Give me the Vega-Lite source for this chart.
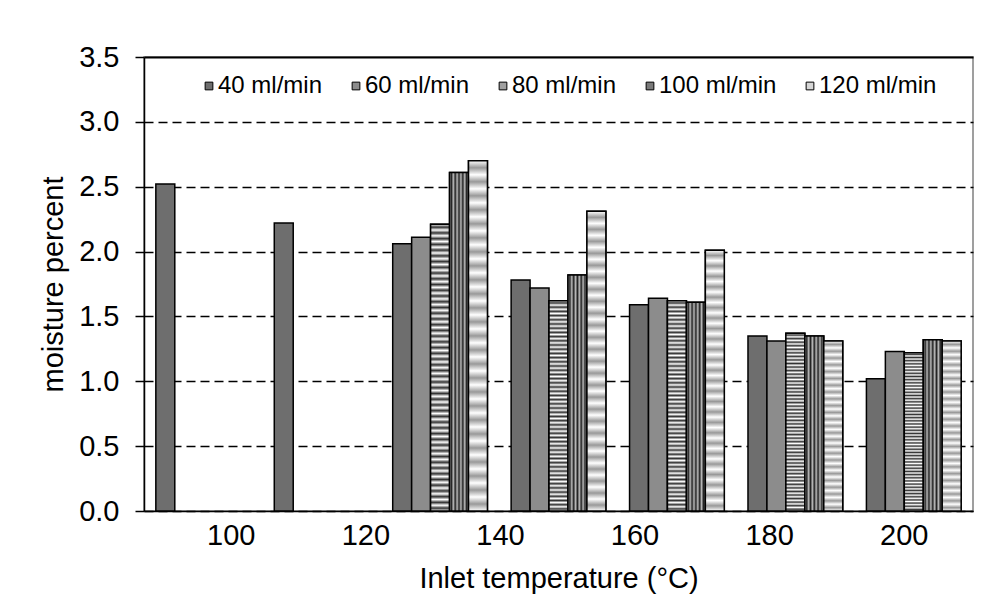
{
  "$schema": "https://vega.github.io/schema/vega-lite/v6.json",
  "width": 829,
  "height": 454,
  "autosize": "none",
  "padding": {"left": 144, "top": 57, "right": 34, "bottom": 96},
  "background": "white",
  "config": {
    "font": "Liberation Sans",
    "view": {"stroke": "#808080", "strokeWidth": 1.5},
    "axis": {"labelColor": "#000", "titleColor": "#000", "titleFontWeight": "normal", "domainColor": "#000", "domainWidth": 1.5, "tickColor": "#000"}
  },
  "datasets": {
    "bars": [
      {"group": 1, "series": "40 ml/min", "moisture": 2.52},
      {"group": 2, "series": "40 ml/min", "moisture": 2.22},
      {"group": 3, "series": "40 ml/min", "moisture": 2.06},
      {"group": 3, "series": "60 ml/min", "moisture": 2.11},
      {"group": 3, "series": "80 ml/min", "moisture": 2.21},
      {"group": 3, "series": "100 ml/min", "moisture": 2.61},
      {"group": 3, "series": "120 ml/min", "moisture": 2.70},
      {"group": 4, "series": "40 ml/min", "moisture": 1.78},
      {"group": 4, "series": "60 ml/min", "moisture": 1.72},
      {"group": 4, "series": "80 ml/min", "moisture": 1.62},
      {"group": 4, "series": "100 ml/min", "moisture": 1.82},
      {"group": 4, "series": "120 ml/min", "moisture": 2.31},
      {"group": 5, "series": "40 ml/min", "moisture": 1.59},
      {"group": 5, "series": "60 ml/min", "moisture": 1.64},
      {"group": 5, "series": "80 ml/min", "moisture": 1.62},
      {"group": 5, "series": "100 ml/min", "moisture": 1.61},
      {"group": 5, "series": "120 ml/min", "moisture": 2.01},
      {"group": 6, "series": "40 ml/min", "moisture": 1.35},
      {"group": 6, "series": "60 ml/min", "moisture": 1.31},
      {"group": 6, "series": "80 ml/min", "moisture": 1.37},
      {"group": 6, "series": "100 ml/min", "moisture": 1.35},
      {"group": 6, "series": "120 ml/min", "moisture": 1.31},
      {"group": 7, "series": "40 ml/min", "moisture": 1.02},
      {"group": 7, "series": "60 ml/min", "moisture": 1.23},
      {"group": 7, "series": "80 ml/min", "moisture": 1.22},
      {"group": 7, "series": "100 ml/min", "moisture": 1.32},
      {"group": 7, "series": "120 ml/min", "moisture": 1.31}
    ],
    "temps": [
      {"temp": 100}, {"temp": 120}, {"temp": 140}, {"temp": 160}, {"temp": 180}, {"temp": 200}
    ]
  },
  "resolve": {"scale": {"x": "independent"}, "axis": {"x": "independent"}},
  "layer": [
    {
      "data": {"name": "bars"},
      "encoding": {
        "x": {"field": "group", "type": "ordinal", "scale": {"domain": [1, 2, 3, 4, 5, 6, 7], "paddingInner": 0.2, "paddingOuter": 0.1}, "axis": null},
        "xOffset": {"field": "series", "type": "nominal", "scale": {"domain": ["40 ml/min", "60 ml/min", "80 ml/min", "100 ml/min", "120 ml/min"], "paddingInner": 0, "paddingOuter": 0}},
        "y": {
          "field": "moisture", "type": "quantitative",
          "scale": {"domain": [0, 3.5], "nice": false, "zero": true},
          "axis": {
            "title": "moisture percent",
            "values": [0, 0.5, 1, 1.5, 2, 2.5, 3, 3.5],
            "format": ".1f",
            "labelFontSize": 29,
            "titleFontSize": 29,
            "labelPadding": 16,
            "titlePadding": 10,
            "tickSize": 9,
            "tickWidth": 1.5,
            "grid": true,
            "gridColor": "#000",
            "gridDash": {"condition": {"test": "datum.value >= 3.5", "value": []}, "value": [9, 5]},
            "gridWidth": {"condition": {"test": "datum.value >= 3.5", "value": 2}, "value": 1.5}
          }
        }
      },
      "layer": [
        {
          "mark": {"type": "bar", "stroke": "#000", "strokeWidth": 1.5},
          "encoding": {
            "color": {
              "field": "series", "type": "nominal",
              "scale": {"domain": ["40 ml/min", "60 ml/min", "80 ml/min", "100 ml/min", "120 ml/min"], "range": ["#6e6e6e", "#8c8c8c", "#a0a0a0", "#7a7a7a", "#d6d6d6"]},
              "legend": {
                "orient": "none", "legendX": 53, "legendY": 17, "direction": "horizontal", "columns": 5,
                "title": null, "labelFontSize": 24, "labelColor": "#000", "symbolType": "square", "symbolSize": 60,
                "symbolStrokeColor": "#000", "symbolStrokeWidth": 1, "labelOffset": -3, "columnPadding": 21, "padding": 0
              }
            }
          }
        },
        {
          "transform": [{"filter": {"field": "series", "oneOf": ["80 ml/min", "100 ml/min", "120 ml/min"]}}],
          "mark": {"type": "bar", "stroke": "#000", "strokeWidth": 1.5},
          "encoding": {
            "fill": {
              "condition": [
                {"test": "datum.series === '80 ml/min'", "value": {"gradient": "linear", "x1": 0, "y1": 0, "x2": 0, "y2": 1, "stops": [
                  {"offset": 0, "color": "#fff"}, {"offset": 0.01, "color": "#333"}, {"offset": 0.02, "color": "#fff"}, {"offset": 0.03, "color": "#333"}, {"offset": 0.04, "color": "#fff"}, {"offset": 0.05, "color": "#333"}, {"offset": 0.06, "color": "#fff"}, {"offset": 0.07, "color": "#333"}, {"offset": 0.08, "color": "#fff"}, {"offset": 0.09, "color": "#333"},
                  {"offset": 0.1, "color": "#fff"}, {"offset": 0.11, "color": "#333"}, {"offset": 0.12, "color": "#fff"}, {"offset": 0.13, "color": "#333"}, {"offset": 0.14, "color": "#fff"}, {"offset": 0.15, "color": "#333"}, {"offset": 0.16, "color": "#fff"}, {"offset": 0.17, "color": "#333"}, {"offset": 0.18, "color": "#fff"}, {"offset": 0.19, "color": "#333"},
                  {"offset": 0.2, "color": "#fff"}, {"offset": 0.21, "color": "#333"}, {"offset": 0.22, "color": "#fff"}, {"offset": 0.23, "color": "#333"}, {"offset": 0.24, "color": "#fff"}, {"offset": 0.25, "color": "#333"}, {"offset": 0.26, "color": "#fff"}, {"offset": 0.27, "color": "#333"}, {"offset": 0.28, "color": "#fff"}, {"offset": 0.29, "color": "#333"},
                  {"offset": 0.3, "color": "#fff"}, {"offset": 0.31, "color": "#333"}, {"offset": 0.32, "color": "#fff"}, {"offset": 0.33, "color": "#333"}, {"offset": 0.34, "color": "#fff"}, {"offset": 0.35, "color": "#333"}, {"offset": 0.36, "color": "#fff"}, {"offset": 0.37, "color": "#333"}, {"offset": 0.38, "color": "#fff"}, {"offset": 0.39, "color": "#333"},
                  {"offset": 0.4, "color": "#fff"}, {"offset": 0.41, "color": "#333"}, {"offset": 0.42, "color": "#fff"}, {"offset": 0.43, "color": "#333"}, {"offset": 0.44, "color": "#fff"}, {"offset": 0.45, "color": "#333"}, {"offset": 0.46, "color": "#fff"}, {"offset": 0.47, "color": "#333"}, {"offset": 0.48, "color": "#fff"}, {"offset": 0.49, "color": "#333"},
                  {"offset": 0.5, "color": "#fff"}, {"offset": 0.51, "color": "#333"}, {"offset": 0.52, "color": "#fff"}, {"offset": 0.53, "color": "#333"}, {"offset": 0.54, "color": "#fff"}, {"offset": 0.55, "color": "#333"}, {"offset": 0.56, "color": "#fff"}, {"offset": 0.57, "color": "#333"}, {"offset": 0.58, "color": "#fff"}, {"offset": 0.59, "color": "#333"},
                  {"offset": 0.6, "color": "#fff"}, {"offset": 0.61, "color": "#333"}, {"offset": 0.62, "color": "#fff"}, {"offset": 0.63, "color": "#333"}, {"offset": 0.64, "color": "#fff"}, {"offset": 0.65, "color": "#333"}, {"offset": 0.66, "color": "#fff"}, {"offset": 0.67, "color": "#333"}, {"offset": 0.68, "color": "#fff"}, {"offset": 0.69, "color": "#333"},
                  {"offset": 0.7, "color": "#fff"}, {"offset": 0.71, "color": "#333"}, {"offset": 0.72, "color": "#fff"}, {"offset": 0.73, "color": "#333"}, {"offset": 0.74, "color": "#fff"}, {"offset": 0.75, "color": "#333"}, {"offset": 0.76, "color": "#fff"}, {"offset": 0.77, "color": "#333"}, {"offset": 0.78, "color": "#fff"}, {"offset": 0.79, "color": "#333"},
                  {"offset": 0.8, "color": "#fff"}, {"offset": 0.81, "color": "#333"}, {"offset": 0.82, "color": "#fff"}, {"offset": 0.83, "color": "#333"}, {"offset": 0.84, "color": "#fff"}, {"offset": 0.85, "color": "#333"}, {"offset": 0.86, "color": "#fff"}, {"offset": 0.87, "color": "#333"}, {"offset": 0.88, "color": "#fff"}, {"offset": 0.89, "color": "#333"},
                  {"offset": 0.9, "color": "#fff"}, {"offset": 0.91, "color": "#333"}, {"offset": 0.92, "color": "#fff"}, {"offset": 0.93, "color": "#333"}, {"offset": 0.94, "color": "#fff"}, {"offset": 0.95, "color": "#333"}, {"offset": 0.96, "color": "#fff"}, {"offset": 0.97, "color": "#333"}, {"offset": 0.98, "color": "#fff"}, {"offset": 0.99, "color": "#333"},
                  {"offset": 1, "color": "#fff"}
                ]}},
                {"test": "datum.series === '100 ml/min'", "value": {"gradient": "linear", "x1": 0, "y1": 0, "x2": 1, "y2": 0, "stops": [
                  {"offset": 0, "color": "#bbb"}, {"offset": 0.1, "color": "#222"}, {"offset": 0.2, "color": "#bbb"}, {"offset": 0.3, "color": "#222"}, {"offset": 0.4, "color": "#bbb"}, {"offset": 0.5, "color": "#222"}, {"offset": 0.6, "color": "#bbb"}, {"offset": 0.7, "color": "#222"}, {"offset": 0.8, "color": "#bbb"}, {"offset": 0.9, "color": "#222"}, {"offset": 1, "color": "#bbb"}
                ]}},
                {"test": "datum.series === '120 ml/min'", "value": {"gradient": "linear", "x1": 0, "y1": 0, "x2": 0, "y2": 1, "stops": [
                  {"offset": 0, "color": "#fff"}, {"offset": 0.02, "color": "#999"}, {"offset": 0.04, "color": "#fff"}, {"offset": 0.06, "color": "#999"}, {"offset": 0.08, "color": "#fff"}, {"offset": 0.1, "color": "#999"}, {"offset": 0.12, "color": "#fff"}, {"offset": 0.14, "color": "#999"}, {"offset": 0.16, "color": "#fff"}, {"offset": 0.18, "color": "#999"},
                  {"offset": 0.2, "color": "#fff"}, {"offset": 0.22, "color": "#999"}, {"offset": 0.24, "color": "#fff"}, {"offset": 0.26, "color": "#999"}, {"offset": 0.28, "color": "#fff"}, {"offset": 0.3, "color": "#999"}, {"offset": 0.32, "color": "#fff"}, {"offset": 0.34, "color": "#999"}, {"offset": 0.36, "color": "#fff"}, {"offset": 0.38, "color": "#999"},
                  {"offset": 0.4, "color": "#fff"}, {"offset": 0.42, "color": "#999"}, {"offset": 0.44, "color": "#fff"}, {"offset": 0.46, "color": "#999"}, {"offset": 0.48, "color": "#fff"}, {"offset": 0.5, "color": "#999"}, {"offset": 0.52, "color": "#fff"}, {"offset": 0.54, "color": "#999"}, {"offset": 0.56, "color": "#fff"}, {"offset": 0.58, "color": "#999"},
                  {"offset": 0.6, "color": "#fff"}, {"offset": 0.62, "color": "#999"}, {"offset": 0.64, "color": "#fff"}, {"offset": 0.66, "color": "#999"}, {"offset": 0.68, "color": "#fff"}, {"offset": 0.7, "color": "#999"}, {"offset": 0.72, "color": "#fff"}, {"offset": 0.74, "color": "#999"}, {"offset": 0.76, "color": "#fff"}, {"offset": 0.78, "color": "#999"},
                  {"offset": 0.8, "color": "#fff"}, {"offset": 0.82, "color": "#999"}, {"offset": 0.84, "color": "#fff"}, {"offset": 0.86, "color": "#999"}, {"offset": 0.88, "color": "#fff"}, {"offset": 0.9, "color": "#999"}, {"offset": 0.92, "color": "#fff"}, {"offset": 0.94, "color": "#999"}, {"offset": 0.96, "color": "#fff"}, {"offset": 0.98, "color": "#999"},
                  {"offset": 1, "color": "#fff"}
                ]}}
              ],
              "value": "transparent"
            }
          }
        }
      ]
    },
    {
      "data": {"name": "temps"},
      "mark": {"type": "point", "opacity": 0},
      "encoding": {
        "x": {
          "field": "temp", "type": "quantitative",
          "scale": {"domain": [87.1, 210.3], "nice": false, "zero": false},
          "axis": {
            "values": [100, 120, 140, 160, 180, 200],
            "ticks": false, "tickSize": 0, "grid": false,
            "title": "Inlet temperature (°C)",
            "labelFontSize": 29, "titleFontSize": 29,
            "labelPadding": 10, "titlePadding": 14, "labelFlush": false
          }
        }
      }
    }
  ]
}
